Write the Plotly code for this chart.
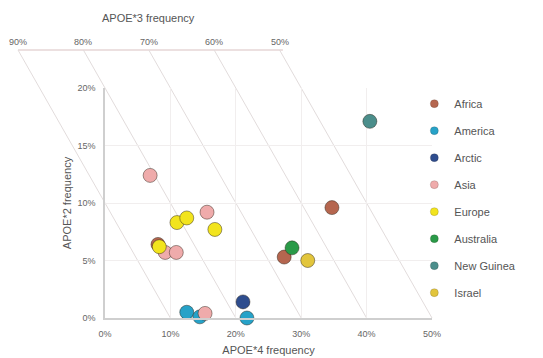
import plotly.graph_objects as go

# ---- data (APOE allele frequencies, %) ----
regions = ["Africa", "America", "Arctic", "Asia", "Europe", "Australia", "New Guinea", "Israel"]
colors = ["#b5664f", "#26a2c8", "#2e4d8e", "#efabab", "#f2e41e", "#2a9a48", "#4b8e8b", "#e2c53c"]
e4 = {
    "Africa": [34.7, 27.4, 8.1],
    "America": [12.5, 14.5, 21.7],
    "Arctic": [21.1],
    "Asia": [6.9, 15.6, 9.2, 10.9, 15.3],
    "Europe": [11.0, 12.5, 16.8, 8.3],
    "Australia": [28.6],
    "New Guinea": [40.5],
    "Israel": [31.0],
}
e2 = {
    "Africa": [9.6, 5.3, 6.4],
    "America": [0.5, 0.1, 0.0],
    "Arctic": [1.4],
    "Asia": [12.4, 9.2, 5.7, 5.7, 0.4],
    "Europe": [8.3, 8.7, 7.7, 6.2],
    "Australia": [6.1],
    "New Guinea": [17.1],
    "Israel": [5.0],
}
x_ticks = [0, 10, 20, 30, 40, 50]
y_ticks = [0, 5, 10, 15, 20]
e3_levels = [90, 80, 70, 60, 50]   # APOE*3 frequency lines (E2+E4 = 100-E3)

X0, X1 = 0, 50
Y0, Y1 = 0, 20
Y_TOP = 23.3   # level of top APOE*3 axis, in APOE*2 units

def px(x):
    return (x - X0) / (X1 - X0)

def py(y):
    return (y - Y0) / (Y1 - Y0)

fig = go.Figure()
for r, c in zip(regions, colors):
    fig.add_trace(go.Scatter(
        x=e4[r], y=e2[r], mode="markers", name=r, legendgroup=r, showlegend=False,
        marker=dict(size=14, color=c, line=dict(color="rgba(40,30,20,0.45)", width=1)),
        cliponaxis=False,
    ))
# legend entries (small markers)
for r, c in zip(regions, colors):
    fig.add_trace(go.Scatter(
        x=[None], y=[None], mode="markers", name=r, legendgroup=r, showlegend=True,
        marker=dict(size=8, color=c, line=dict(color="rgba(40,30,20,0.35)", width=0.5)),
    ))

shapes = []
annotations = []
x_left = 100 - e3_levels[0] - Y_TOP
x_right = 100 - e3_levels[-1] - Y_TOP
shapes.append(dict(type="line", xref="paper", yref="paper",
                   x0=px(x_left), x1=px(x_right) + 0.01, y0=py(Y_TOP), y1=py(Y_TOP),
                   line=dict(color="#e6d6d6", width=1.5), layer="below"))
for lv in e3_levels:
    s = 100 - lv
    shapes.append(dict(type="line", xref="paper", yref="paper",
                       x0=px(s - Y_TOP), y0=py(Y_TOP), x1=px(s), y1=py(0),
                       line=dict(color="#e2dcdc", width=1), layer="below"))
    annotations.append(dict(xref="paper", yref="paper", x=px(s - Y_TOP), y=py(Y_TOP),
                            text=f"{lv}%", showarrow=False, xanchor="center",
                            yanchor="bottom", yshift=1,
                            font=dict(size=9, color="#666")))
annotations.append(dict(xref="paper", yref="paper", x=px((x_left + x_right) / 2), y=py(Y_TOP),
                        text="APOE*3 frequency", showarrow=False, xanchor="center",
                        yanchor="bottom", yshift=24,
                        font=dict(size=11, color="#555")))

fig.update_layout(
    width=543, height=358,
    margin=dict(l=97, r=119, t=80, b=48, autoexpand=False),
    paper_bgcolor="white", plot_bgcolor="white",
    font=dict(family="Liberation Sans, Arial, sans-serif", color="#555"),
    shapes=shapes, annotations=annotations,
    showlegend=True,
    legend=dict(x=0.946, xanchor="left", y=0.995, yanchor="top",
                font=dict(size=11, color="#555"), tracegroupgap=8,
                itemwidth=30, bgcolor="rgba(0,0,0,0)"),
    xaxis=dict(range=[X0, X1], tickvals=x_ticks, ticktext=[f"{v}%" for v in x_ticks],
               showgrid=True, gridcolor="#f1eeee", zeroline=False, automargin=False,
               showline=True, linecolor="#cfcfcf", linewidth=1.5,
               ticks="", ticklabelstandoff=6, tickfont=dict(size=9, color="#666"),
               title=dict(text="APOE*4 frequency", font=dict(size=11, color="#555"), standoff=9)),
    yaxis=dict(range=[Y0, Y1], tickvals=y_ticks, ticktext=[f"{v}%" for v in y_ticks],
               showgrid=True, gridcolor="#f1eeee", zeroline=False, automargin=False,
               showline=True, linecolor="#cfcfcf", linewidth=1.5,
               ticks="", ticklabelstandoff=6, tickfont=dict(size=9, color="#666"),
               title=dict(text="APOE*2 frequency", font=dict(size=11, color="#555"), standoff=4)),
)
fig.write_html("out.html")
